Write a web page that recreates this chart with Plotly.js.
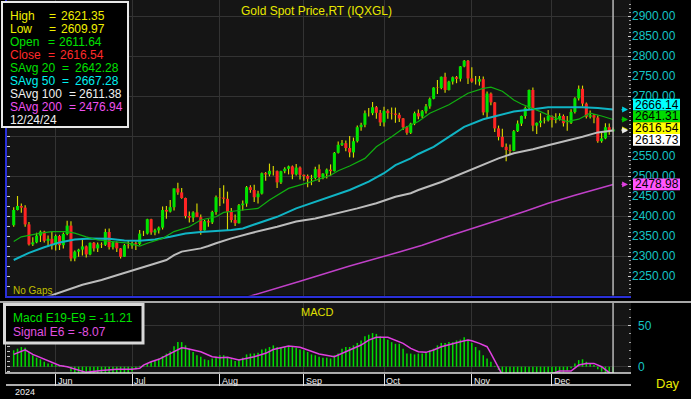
<!DOCTYPE html>
<html><head><meta charset="utf-8">
<script src="https://cdn.plot.ly/plotly-3.0.1.min.js"></script>
<style>html,body{margin:0;padding:0;background:#000;overflow:hidden}#chart{width:691px;height:399px}</style>
</head><body><div id="chart"></div>
<script>
// ---------- DATA ----------
const dates = ("05/17 05/20 05/21 05/22 05/23 05/24 05/27 05/28 05/29 05/30 05/31 " +
 "06/03 06/04 06/05 06/06 06/07 06/10 06/11 06/12 06/13 06/14 06/17 06/18 06/19 06/20 06/21 06/24 06/25 06/26 06/27 06/28 " +
 "07/01 07/02 07/03 07/04 07/05 07/08 07/09 07/10 07/11 07/12 07/15 07/16 07/17 07/18 07/19 07/22 07/23 07/24 07/25 07/26 07/29 07/30 07/31 " +
 "08/01 08/02 08/05 08/06 08/07 08/08 08/09 08/12 08/13 08/14 08/15 08/16 08/19 08/20 08/21 08/22 08/23 08/26 08/27 08/28 08/29 08/30 " +
 "09/02 09/03 09/04 09/05 09/06 09/09 09/10 09/11 09/12 09/13 09/16 09/17 09/18 09/19 09/20 09/23 09/24 09/25 09/26 09/27 09/30 " +
 "10/01 10/02 10/03 10/04 10/07 10/08 10/09 10/10 10/11 10/14 10/15 10/16 10/17 10/18 10/21 10/22 10/23 10/24 10/25 10/28 10/29 10/30 10/31 " +
 "11/01 11/04 11/05 11/06 11/07 11/08 11/11 11/12 11/13 11/14 11/15 11/18 11/19 11/20 11/21 11/22 11/25 11/26 11/27 11/28 11/29 " +
 "12/02 12/03 12/04 12/05 12/06 12/09 12/10 12/11 12/12 12/13 12/16 12/17 12/18 12/19 12/20 12/23 12/24").split(' ');

const open = [2377,2415,2425,2421,2379,2329,2334,2351,2361,2338,2343,
 2327,2350,2327,2355,2376,2294,2311,2316,2324,2304,2333,2319,2329,2328,2360,2322,2334,2319,2298,2327,
 2326,2332,2330,2356,2356,2392,2359,2364,2371,2415,2411,2422,2469,2459,2445,2400,2396,2409,2397,2364,2387,2384,2410,
 2447,2446,2443,2410,2390,2382,2427,2431,2472,2465,2447,2456,2507,2504,2513,2512,2484,2512,2518,2524,2504,2521,
 2503,2500,2493,2495,2517,2497,2506,2516,2512,2558,2578,2582,2570,2559,2587,2622,2628,2657,2657,2672,2658,
 2634,2663,2657,2656,2653,2644,2622,2608,2631,2657,2649,2662,2674,2693,2721,2720,2748,2715,2736,2747,2743,2774,2788,
 2744,2736,2736,2742,2659,2706,2684,2619,2598,2573,2565,2563,2612,2631,2650,2670,2715,2626,2633,2638,2639,
 2650,2640,2643,2650,2632,2633,2660,2694,2718,2681,2648,2652,2646,2587,2594,2622,2611.64];
const high = [2422,2450,2431,2427,2385,2347,2358,2364,2363,2351,2360,
 2354,2353,2359,2388,2387,2314,2318,2342,2326,2334,2335,2334,2334,2368,2369,2335,2336,2320,2330,2339,
 2336,2336,2365,2363,2393,2393,2368,2374,2424,2425,2440,2469,2483,2470,2446,2411,2412,2431,2404,2390,2392,2413,2451,
 2470,2477,2461,2420,2404,2430,2439,2475,2477,2478,2463,2509,2510,2531,2525,2514,2513,2522,2526,2526,2530,2524,
 2504,2504,2503,2523,2529,2507,2519,2529,2560,2586,2590,2589,2600,2596,2626,2633,2664,2670,2685,2675,2665,
 2673,2667,2671,2671,2658,2645,2625,2633,2661,2666,2665,2680,2696,2722,2740,2749,2758,2738,2749,2750,2775,2790,2790,
 2772,2750,2750,2749,2711,2709,2685,2626,2618,2581,2579,2615,2639,2651,2674,2716,2721,2634,2657,2646,2665,
 2651,2657,2657,2654,2650,2667,2697,2726,2726,2684,2664,2655,2651,2611,2632,2631,2621.35];
const low = [2373,2414,2408,2373,2326,2325,2332,2335,2334,2323,2316,
 2314,2315,2319,2352,2287,2287,2298,2301,2296,2302,2311,2310,2320,2325,2316,2316,2310,2294,2298,2319,
 2318,2315,2327,2350,2354,2353,2352,2356,2366,2393,2409,2414,2453,2443,2394,2384,2385,2398,2353,2364,2373,2380,2403,
 2425,2431,2364,2384,2375,2381,2414,2423,2458,2435,2431,2454,2488,2499,2501,2470,2480,2507,2504,2492,2501,2491,
 2488,2472,2477,2491,2485,2492,2494,2500,2511,2556,2575,2562,2547,2546,2584,2613,2622,2649,2652,2643,2625,
 2624,2643,2641,2633,2635,2615,2603,2605,2627,2642,2645,2656,2668,2692,2705,2717,2708,2714,2729,2732,2736,2772,2730,
 2733,2729,2726,2652,2643,2677,2610,2589,2572,2537,2554,2562,2610,2625,2643,2665,2612,2605,2622,2631,2636,
 2621,2632,2639,2624,2613,2630,2656,2689,2674,2644,2644,2632,2583,2583,2592,2603,2609.97];
const close = [2415,2425,2421,2379,2329,2334,2351,2361,2338,2343,2327,
 2350,2327,2355,2376,2294,2311,2316,2324,2304,2333,2319,2329,2328,2360,2322,2334,2319,2298,2327,2326,
 2332,2330,2356,2356,2392,2359,2364,2371,2415,2411,2422,2469,2459,2445,2400,2396,2409,2397,2364,2387,2384,2410,2447,
 2446,2443,2410,2390,2382,2427,2431,2472,2465,2447,2456,2507,2504,2513,2512,2484,2512,2518,2524,2504,2521,2503,
 2500,2493,2495,2517,2497,2506,2516,2512,2558,2578,2582,2570,2559,2587,2622,2628,2657,2657,2672,2658,2634,
 2663,2657,2656,2653,2644,2622,2608,2631,2657,2649,2662,2674,2693,2721,2720,2748,2715,2736,2747,2743,2774,2788,2744,
 2736,2736,2742,2659,2706,2684,2619,2598,2573,2565,2563,2612,2631,2650,2670,2715,2626,2633,2638,2639,2650,
 2640,2643,2650,2632,2633,2660,2694,2718,2681,2648,2652,2646,2587,2594,2622,2612,2616.54];

// moving averages (bar index, value)
const sma20Idx = [0,2,7,10,14,16,19,22,26,30,33,35,39,42,46,49,53,55,60,64,67,72,78,83,85,88,92,95,99,102,106,109,114,119,123,125,128,131,133,135,138,141,145,148,151,154,157];
const sma20Val = [2336,2348,2357,2361,2361,2357,2348,2340,2336,2332,2325,2332,2344,2361,2373,2390,2398,2409,2415,2419,2440,2469,2486,2502,2513,2525,2544,2573,2598,2619,2636,2657,2678,2707,2719,2722,2712,2690,2680,2673,2661,2648,2636,2642,2657,2650,2641.31];
const sma50Idx = [0,4,8,12,16,20,25,29,33,37,41,45,49,53,57,60,64,69,74,78,83,88,93,97,100,104,106,110,114,118,123,127,131,136,140,144,149,153,157];
const sma50Val = [2290,2308,2322,2334,2341,2344,2343,2339,2338,2341,2348,2356,2360,2362,2365,2369,2382,2398,2419,2432,2448,2465,2486,2507,2527,2544,2555,2573,2598,2623,2642,2652,2661,2667,2672,2672,2672,2670,2666.14];
const sma100Idx = [0,10,18,23,27,31,36,40,42,44,47,49,51,53,57,62,69,74,79,85,90,95,100,104,106,112,117,120,123,127,131,136,140,144,149,153,157];
const sma100Val = [2172,2202,2228,2240,2252,2263,2278,2290,2302,2311,2315,2319,2325,2332,2344,2357,2373,2386,2394,2407,2419,2432,2448,2457,2465,2485,2505,2515,2527,2544,2557,2567,2577,2586,2598,2609,2613.73];
const sma200Idx = [50,61,75,88,101,107,114,120,127,134,140,147,154,157];
const sma200Val = [2170,2197,2237,2275,2310,2327,2350,2368,2390,2412,2432,2452,2470,2478.98];

// MACD (E19-E9) per bar and its signal line (sampled)
const macd = [20,22,24,23,18,14,11,9,6,4,3.5,2,2,1.5,1,
 -6,-10,-12,-13,-14,-14,-13,-12,-11,-10,-9,-9,-10,-10,-9,-8,-6,-3,
 1,2,4,6,8,10,13,16,19,25,30,30,26,22,18,14,12,9,8,10,12,14,14,11,9,7,9,11,15,16,16,17,21,22,24,26,24,23,24,25,24,23,21,
 20,18,15,14,12,11,11,10,14,16,22,24,24,26,29,32,37,39,41,40,37,35,33,30,28,28,22,16,16,15,16,16,17,20,22,26,29,29,30,30,32,33,36,33,29,24,20,14,10,6,1,
 -4,-10,-16,-22,-26,-28,-28,-26,-22,-20,-18,-16,-14,-12,-11,-10,-9,-7,-5,-2,
 4,8,9,6,4,2,-3,-6,-8,-10,-11.21];
const sigIdx = [0,3,5,7,9,12,14,17,19,23,27,31,33,34,36,38,41,44,45,49,52,54,56,58,59,63,66,68,72,75,78,80,84,86,88,91,93,95,98,100,102,104,106,108,110,112,115,117,119,120,122,124,125,126,127,128,132,137,140,143,146,148,150,152,154,155,156,157];
const sigVal = [15,20.5,15,11,6.5,1.5,0,-4,-6.9,-4.5,-3,-3,-2,2,6,9,16,23,22.4,18.3,12.2,11,11.4,9,8.1,12.2,16.3,21,25.2,23.6,18.3,15.4,12.2,16.3,20.3,26.4,32.5,35.8,35.8,32.5,28.5,22.4,18.3,17.5,20.3,24.4,28.5,30.5,32.5,31.7,28.5,24.4,16.3,8.1,0,-10,-25,-20,-10,-5.3,-5.3,2,4,4,0,-4,-7.3,-8.07];

// info panel texts
const infoLabels = ['High','Low','Open','Close','SAvg 20','SAvg 50','SAvg 100','SAvg 200'];
const infoValues = ['2621.35','2609.97','2611.64','2616.54','2642.28','2667.28','2611.38','2476.94'];
const infoDate = '12/24/24';
const macdInfo = ['Macd E19-E9 = -11.21','Signal E6 = -8.07'];
const monthNames = {'06':'Jun','07':'Jul','08':'Aug','09':'Sep','10':'Oct','11':'Nov','12':'Dec'};
const yearLabel = '2024';
const priceTicks = [2250,2300,2350,2400,2450,2500,2550,2600,2650,2700,2750,2800,2850,2900];
const macdTicks = [0,50];
// last values tagged on the price axis
const tagValues = [2666.14, 2641.31, 2616.54, 2613.73, 2478.98];

// ---------- STYLE / LAYOUT ----------
const FONT = 'Arial, "Liberation Sans", sans-serif';
const W=691, H=399, ML=7, MR=60, MT=0, MB=26;
const PW=W-ML-MR, PH=H-MT-MB;
const px = x => (x-ML)/PW, py = y => (H-MB-y)/PH;
const priceRange=[2201,2940], macdRange=[-7.68,77.7], xRange=[-1.755,161.7];
const priceBottomPx = (priceRange[1]-priceRange[0])*0.4;
const infoColors = ['#f0f000','#f0f000','#00e000','#ff2a2a','#00e000','#00f0f0','#f0f0f0','#f050f0'];
const tagBg = ['#00ffff','#00dd00','#ffff00','#ffffff','#ff55ff'];
const arrowColors = ['#00d0e0','#00c000','#e0e000','#e8e8e8','#e040e0'];

const idx = dates.map((d,i)=>i);
const last = idx.length-1;
const monthIdx = [], monthLab = [];
dates.forEach((d,i)=>{ const m=d.slice(0,2); if(i>0 && m!==dates[i-1].slice(0,2)){ monthIdx.push(i); monthLab.push(monthNames[m]); } });

const bodyColor = close.map((c,i)=> c>=open[i] ? '#00e400' : '#ff2424');

const traces = [
  {type:'bar', x:idx, base:low, y:high.map((h,i)=>h-low[i]), width:0.3, marker:{color:'#d8d800', line:{width:0}}, yaxis:'y', hoverinfo:'skip'},
  {type:'bar', x:idx, base:open, y:close.map((c,i)=>c-open[i]), width:0.8, marker:{color:bodyColor, line:{width:0}}, yaxis:'y', hoverinfo:'skip'},
  {type:'scatter', mode:'lines', x:sma200Idx, y:sma200Val, line:{color:'#c040c8', width:1.5}, yaxis:'y'},
  {type:'scatter', mode:'lines', x:sma100Idx, y:sma100Val, line:{color:'#bcbcbc', width:2}, yaxis:'y'},
  {type:'scatter', mode:'lines', x:sma50Idx, y:sma50Val, line:{color:'#10b4c4', width:2}, yaxis:'y'},
  {type:'scatter', mode:'lines', x:sma20Idx, y:sma20Val, line:{color:'#10b010', width:1.2}, yaxis:'y'},
  {type:'bar', x:idx, y:macd, width:0.4, marker:{color:'#00dc00', line:{width:0}}, yaxis:'y2', hoverinfo:'skip'},
  {type:'scatter', mode:'lines', x:sigIdx, y:sigVal, line:{color:'#e040e0', width:1.5}, yaxis:'y2'},
  {type:'scatter', x:[], y:[], yaxis:'y3'},
  {type:'scatter', x:[], y:[], yaxis:'y4'},
  {type:'scatter', x:[], y:[], yaxis:'y5'}
];

// stack the axis tags so they do not overlap
const tagH = 11.7*2.5;
const tagPos = (function(vals,h){
  const order = vals.map((v,i)=>i).sort((a,b)=>vals[b]-vals[a]);
  let cl = order.map(i=>({items:[i], c:vals[i]}));
  let merged = true;
  while(merged){ merged=false;
    for(let k=0;k<cl.length-1;k++){
      const a=cl[k], b=cl[k+1];
      if((a.c-(a.items.length-1)*h/2) - (b.c+(b.items.length-1)*h/2) < h){
        const items=a.items.concat(b.items);
        cl.splice(k,2,{items, c:items.reduce((s,i)=>s+vals[i],0)/items.length});
        merged=true; break;
      }
    }
  }
  const pos=[]; cl.forEach(c=>c.items.forEach((i,j)=>{pos[i]=c.c+((c.items.length-1)/2-j)*h;}));
  return pos;
})(tagValues, tagH);
// axis labels that sit fully behind a tag are not drawn
const shownTicks = priceTicks.filter(t => !tagPos.some(p => Math.abs(t-p) < tagH/2));

const shapes = [
  {type:'line', xref:'x', yref:'y domain', x0:last, x1:last, y0:0, y1:1, line:{color:'#b8b8b8', width:1.5}},
  {type:'line', xref:'x', yref:'y2 domain', x0:last, x1:last, y0:0, y1:1, line:{color:'#b8b8b8', width:1.5}},
  {type:'line', xref:'paper', yref:'paper', x0:px(5), x1:px(631), y0:py(297), y1:py(297), line:{color:'#2a30d8', width:2}},
  {type:'line', xref:'paper', yref:'paper', x0:px(6), x1:px(6), y0:py(297), y1:py(0), line:{color:'#2a30d8', width:2}},
  {type:'line', xref:'paper', yref:'paper', x0:px(0), x1:px(691), y0:py(302), y1:py(302), line:{color:'#a8a8a8', width:2}},
  {type:'line', xref:'paper', yref:'paper', x0:px(5), x1:px(631), y0:py(373), y1:py(373), line:{color:'#e0e0e0', width:1.5}},
  {type:'line', xref:'paper', yref:'paper', x0:px(5.5), x1:px(5.5), y0:py(373), y1:py(303), line:{color:'#a0a0a0', width:1}},
  {type:'line', xref:'paper', yref:'paper', x0:px(6), x1:px(631), y0:py(385), y1:py(385), line:{color:'#e8e8e8', width:1.5}},
  {type:'rect', xref:'paper', yref:'paper', x0:px(2), x1:px(128), y0:py(127), y1:py(2), fillcolor:'#000', line:{color:'#e8e8e8', width:2}},
  {type:'rect', xref:'paper', yref:'paper', x0:px(4.5), x1:px(143), y0:py(343), y1:py(304.5), fillcolor:'#000', line:{color:'#d8d8d8', width:3}}
];
tagValues.forEach((v,i)=>{
  shapes.push({type:'rect', xref:'paper', yref:'y', x0:px(633), x1:px(680), y0:tagPos[i]-tagH/2, y1:tagPos[i]+tagH/2, fillcolor:tagBg[i], line:{width:0}});
});

const ann = [];
const T = (x,y,text,color,size,anchor,extra) => Object.assign({xref:'paper', yref:'paper', x:px(x), y:py(y), text, showarrow:false, xanchor:anchor||'left', yanchor:'middle', font:{family:FONT, size:size||12, color}}, extra||{});
ann.push(T(316.5, 11, 'Gold Spot Price,RT (IQXGL)', '#e8e800', 12, 'center'));
ann.push(T(317, 311.5, 'MACD', '#e0e000', 11, 'center'));
ann.push(T(11, 290, 'No Gaps', '#c0c000', 10));
const eqX = [47.3,47.3,45.7,45.7,59.7,59.7,67.3,67.3];
const valX = [59,59,57.3,58.3,73,73,77.3,77.3];
infoLabels.forEach((l,k)=>{
  const y = 16+13*k;
  ann.push(T(8.3, y, l, infoColors[k]));
  ann.push(T(eqX[k], y, '=', infoColors[k]));
  ann.push(T(valX[k], y, infoValues[k], infoColors[k]));
});
ann.push(T(8.3, 120, infoDate, '#f0f0f0'));
ann.push(T(10.7, 318.3, macdInfo[0], '#00e000'));
ann.push(T(10.7, 331.7, macdInfo[1], '#e050e0'));
monthIdx.forEach((m,k)=>{
  ann.push({xref:'x', yref:'paper', x:m, y:py(381), text:monthLab[k], showarrow:false, xanchor:'left', yanchor:'middle', font:{family:FONT, size:9, color:'#f0f0f0'}});
});
ann.push(T(13, 392, yearLabel, '#f0f0f0', 9));
ann.push(T(654, 383, 'Day', '#e8e800', 13));
tagValues.forEach((v,i)=>{
  ann.push({xref:'paper', yref:'y', x:px(633), y:tagPos[i], text:v.toFixed(2), showarrow:false, xanchor:'left', yanchor:'middle', font:{family:FONT, size:12, color:'#000'}});
  ann.push({xref:'paper', yref:'y', x:px(628), y:v, text:'', showarrow:true, ax:-8, ay:0, arrowhead:2, arrowsize:0.9, arrowwidth:1.3, arrowcolor:arrowColors[i]});
});

const layout = {
  width:W, height:H, margin:{l:ML, r:MR, t:MT, b:MB, pad:0},
  paper_bgcolor:'#000', plot_bgcolor:'#151515', showlegend:false, barmode:'overlay',
  font:{family:FONT, size:12, color:'#fff'},
  xaxis:{range:xRange, anchor:'y2', tickmode:'array', tickvals:monthIdx, showticklabels:false, ticks:'outside', ticklen:12, tickcolor:'#e0e0e0', tickwidth:1, showgrid:true, gridcolor:'#333', gridwidth:1, zeroline:false, showline:false},
  yaxis:{domain:[py(priceBottomPx),1], range:priceRange, side:'right', anchor:'x', tickmode:'array', tickvals:shownTicks, ticktext:shownTicks.map(t=>t.toFixed(2)), tickfont:{family:FONT, size:12, color:'#14c4c4'}, ticks:'inside', ticklen:3, tickcolor:'#d0d0d0', minor:{tickmode:'linear', tick0:2200, dtick:10, ticks:'inside', ticklen:2, tickcolor:'#a0a0a0', showgrid:false}, showgrid:false, zeroline:false, showline:false},
  yaxis3:{overlaying:'y', range:priceRange, side:'right', tick0:2200, dtick:100, showticklabels:false, ticks:'', showgrid:true, gridcolor:'#333', zeroline:false, showline:false},
  yaxis4:{overlaying:'y', range:priceRange, side:'left', tick0:2200, dtick:25, showticklabels:false, ticks:'inside', ticklen:3, tickcolor:'#c8c8c8', showgrid:false, zeroline:false, showline:false},
  yaxis2:{domain:[0,py(303)], range:macdRange, side:'right', anchor:'x', tickmode:'array', tickvals:macdTicks, ticktext:macdTicks.map(String), tickfont:{family:FONT, size:12, color:'#14c4c4'}, ticklabelstandoff:6, ticks:'inside', ticklen:3, tickcolor:'#d0d0d0', minor:{tickmode:'linear', tick0:0, dtick:10, ticks:'inside', ticklen:2, tickcolor:'#a0a0a0', showgrid:false}, showgrid:true, gridcolor:'#333', zeroline:false, showline:false},
  yaxis5:{overlaying:'y2', range:macdRange, side:'left', tick0:0, dtick:6.1, showticklabels:false, ticks:'inside', ticklen:3, tickcolor:'#c8c8c8', showgrid:false, zeroline:false, showline:false},
  shapes, annotations:ann
};
Plotly.newPlot('chart', traces, layout, {displayModeBar:false, staticPlot:true});
</script></body></html>
